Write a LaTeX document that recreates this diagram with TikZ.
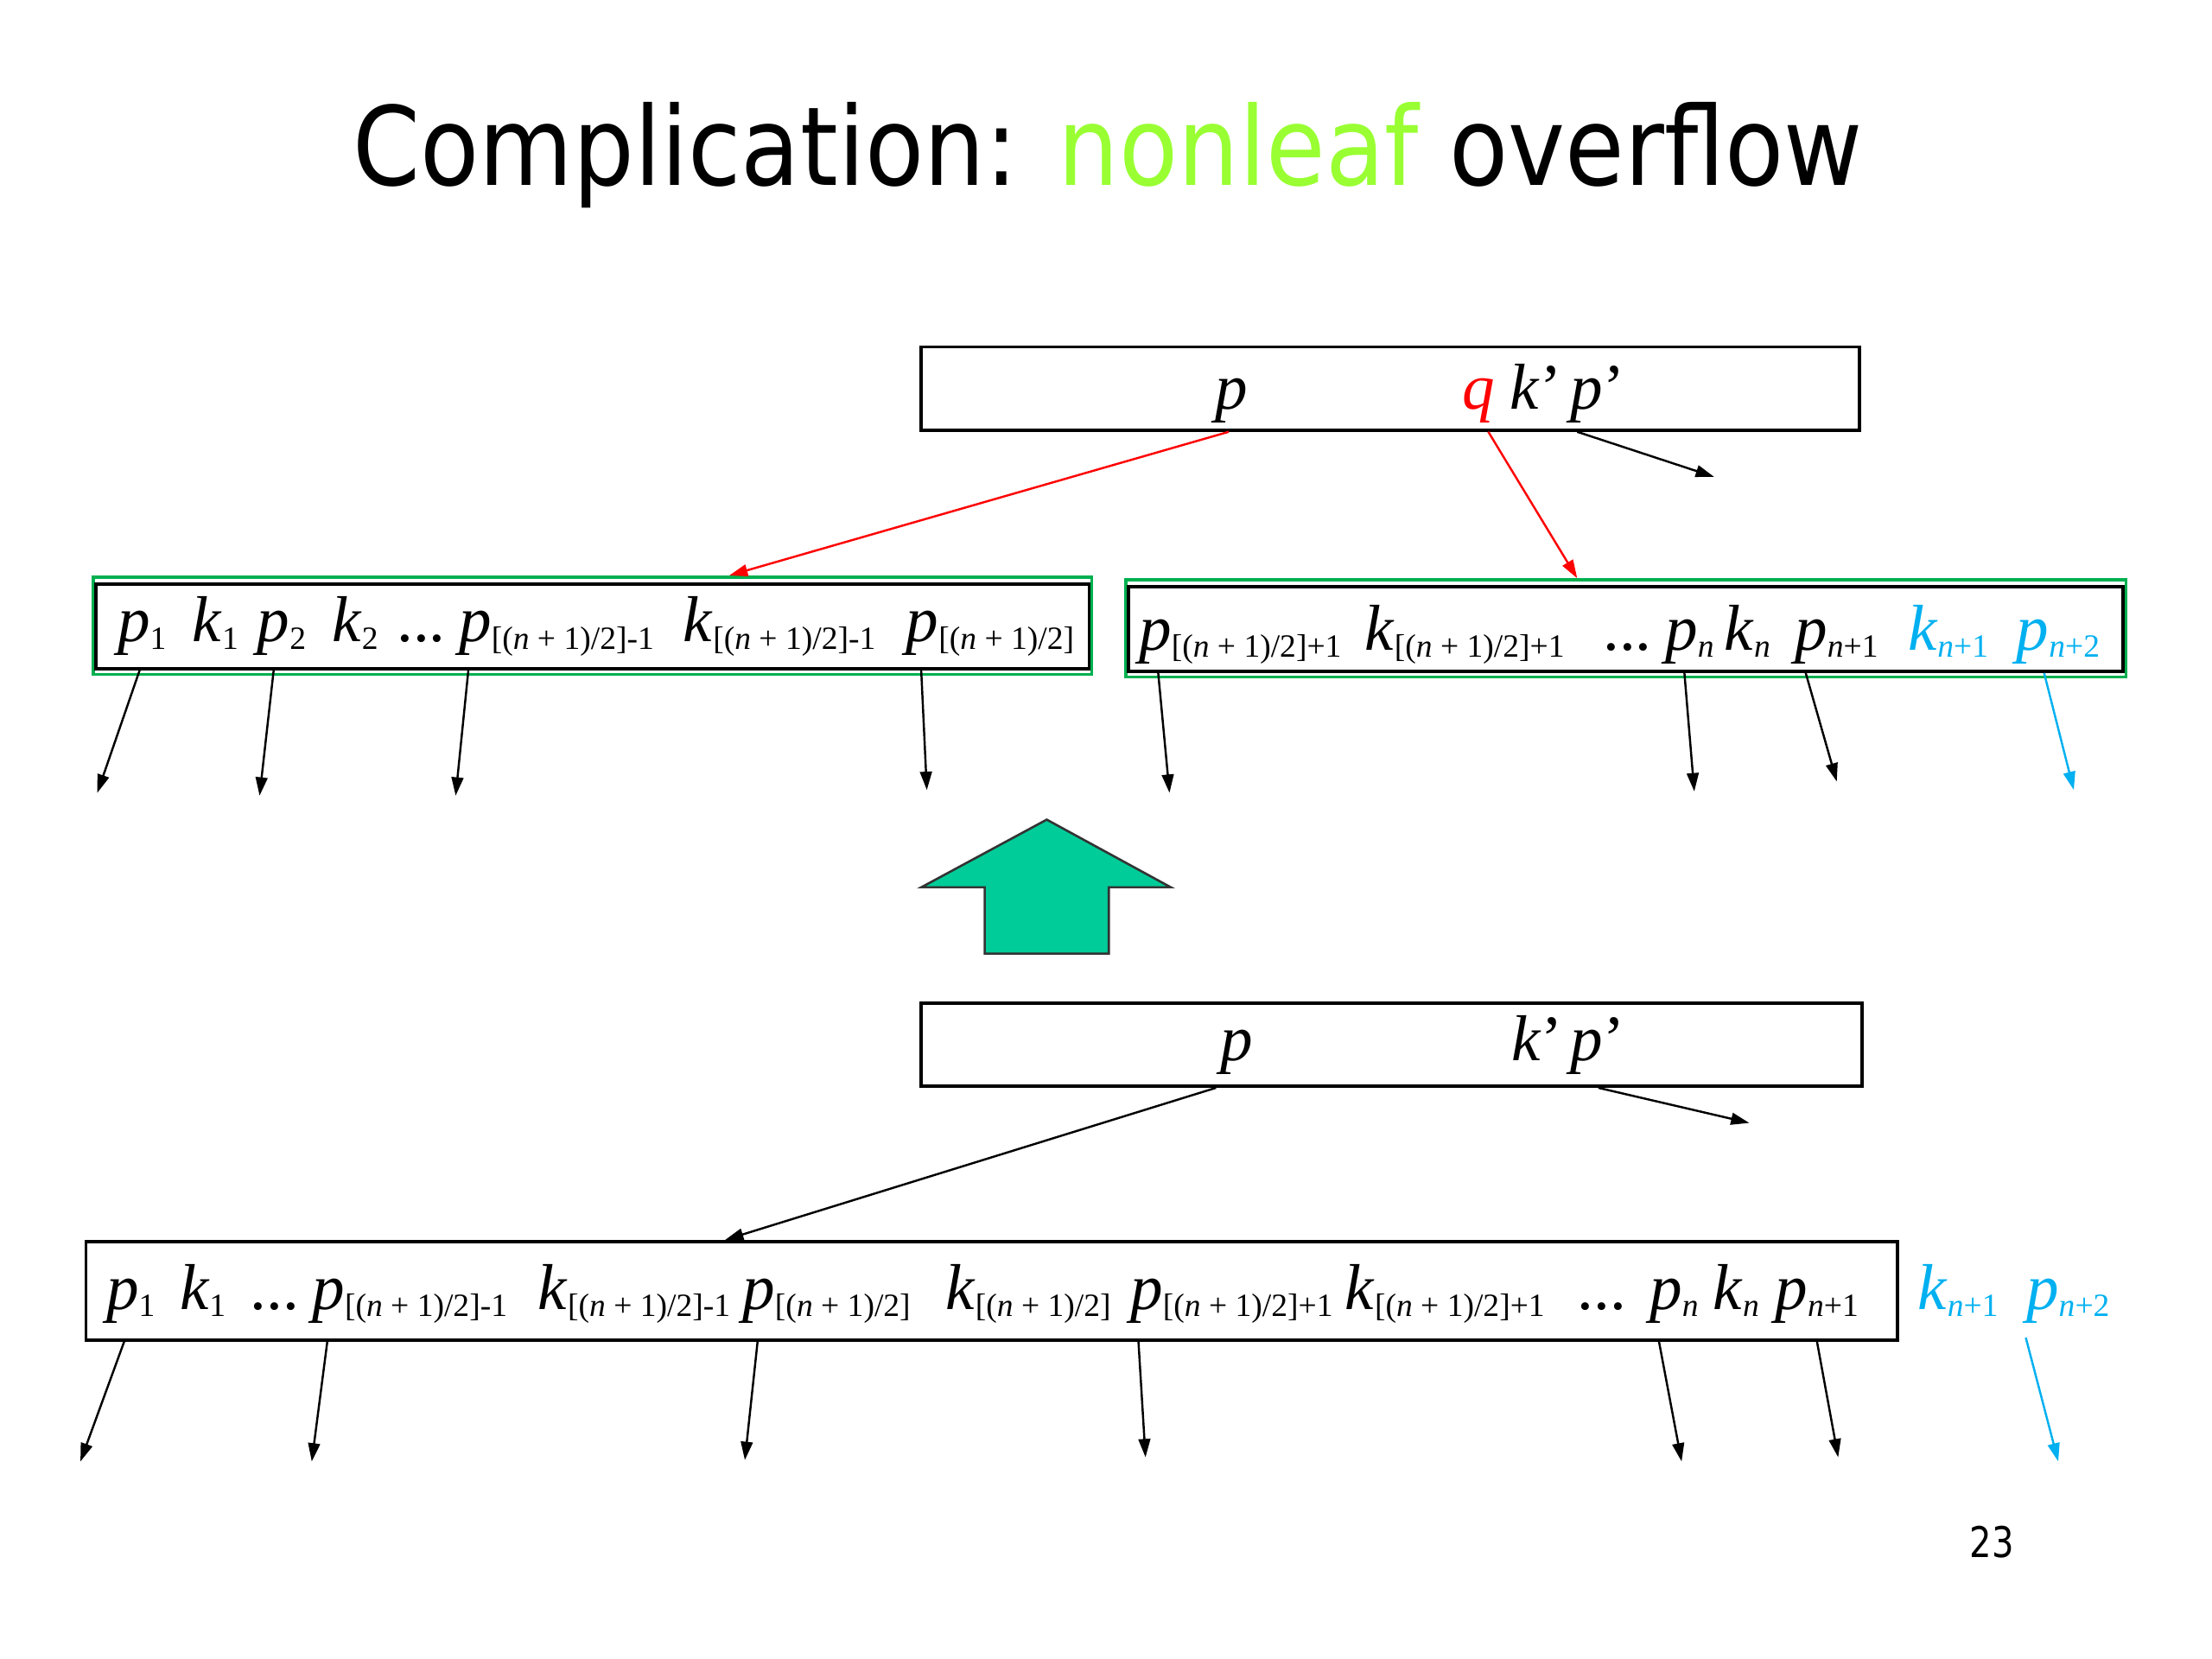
\documentclass[tikz,border=0pt]{standalone}
\usepackage{fontspec}
\usepackage{graphicx}
\setmainfont{Liberation Serif}
\newfontfamily\titlefont{DejaVu Sans}
\usetikzlibrary{arrows.meta}
\definecolor{titlegreen}{HTML}{99FF33}
\definecolor{boxgreen}{HTML}{00B050}
\definecolor{keyblue}{HTML}{00B0F0}
\definecolor{blockgreen}{HTML}{00CC99}
\newcommand{\sbx}[1]{\raisebox{-2.5pt}{\fontsize{11.5}{11.5}\selectfont #1}}
\newcommand{\hf}{[(\textit{n} + 1)/2]}
\begin{document}
\begin{tikzpicture}[x=0.5pt,y=-0.5pt,
  tok/.style={anchor=base west, inner sep=0pt, font=\fontsize{23}{23}\selectfont},
  nbox/.style={draw=black, line width=1.1pt, inner sep=0pt},
  gbox/.style={draw=boxgreen, line width=1.1pt, inner sep=0pt},
  arr/.style={-{Triangle[length=6.5pt,width=4.2pt]}, line width=0.75pt},
  redarr/.style={arr, draw=red, fill=red},
  bluearr/.style={arr, draw=keyblue, fill=keyblue},
  blockarrow/.style={fill=blockgreen, draw=black!80, line width=0.8pt, line join=miter}]
\useasboundingbox (0,0) rectangle (1568,1176);

% title and page number
\node[anchor=north west, inner sep=0pt] (title) at (250,72)
  {\resizebox*{535pt}{37.5pt}{\titlefont Complication: \textcolor{titlegreen}{nonleaf} overflow}};
\node[anchor=base west, inner sep=0pt] (page) at (1396,1104)
  {\titlefont\fontsize{15}{15}\selectfont\scalebox{0.82}[1]{23}};

% boxes
\node[nbox, minimum width=332.5pt, minimum height=29.5pt] (T) at (985.5,275.5) {};
\node[gbox, minimum width=354pt, minimum height=34.5pt] (LG) at (420,443.5) {};
\node[nbox, minimum width=352pt, minimum height=30pt] (L) at (420,444) {};
\node[gbox, minimum width=354.5pt, minimum height=34.5pt] (RG) at (1152.5,445.5) {};
\node[nbox, minimum width=352.5pt, minimum height=30pt] (R) at (1152.5,446) {};
\node[nbox, minimum width=333.5pt, minimum height=29.5pt] (B) at (986.5,740.5) {};
\node[nbox, minimum width=642pt, minimum height=35pt] (BB) at (703,915) {};

% top parent
\node[tok] (tp) at (861,290) {\textit{p}};
\node[tok, text=red] (tq) at (1036,290) {\textit{q}};
\node[tok] (tk) at (1070,290) {\textit{k}’};
\node[tok] (tpp) at (1113,290) {\textit{p}’};

% left split node
\node[tok] (l1) at (83,455) {\textit{p}\sbx{1}};
\node[tok] (l2) at (136,455) {\textit{k}\sbx{1}};
\node[tok] (l3) at (182,455) {\textit{p}\sbx{2}};
\node[tok] (l4) at (235,455) {\textit{k}\sbx{2}};
\node[tok] (l5) at (281,455) {...};
\node[tok] (l6) at (325,455) {\textit{p}\sbx{\hf-1}};
\node[tok] (l7) at (484,455) {\textit{k}\sbx{\hf-1}};
\node[tok] (l8) at (642,455) {\textit{p}\sbx{\hf}};

% right split node
\node[tok] (r1) at (807,461) {\textit{p}\sbx{\hf+1}};
\node[tok] (r2) at (967,461) {\textit{k}\sbx{\hf+1}};
\node[tok] (r3) at (1136,461) {...};
\node[tok] (r4) at (1180,461) {\textit{p}\sbx{\textit{n}}};
\node[tok] (r5) at (1222,461) {\textit{k}\sbx{\textit{n}}};
\node[tok] (r6) at (1272,461) {\textit{p}\sbx{\textit{n}+1}};
\node[tok, text=keyblue] (r7) at (1352,461) {\textit{k}\sbx{\textit{n}+1}};
\node[tok, text=keyblue] (r8) at (1429,461) {\textit{p}\sbx{\textit{n}+2}};

% bottom parent
\node[tok] (bp) at (865,752) {\textit{p}};
\node[tok] (bk) at (1071,752) {\textit{k}’};
\node[tok] (bpp) at (1113,752) {\textit{p}’};

% bottom overfull node
\node[tok] (b1) at (75,928) {\textit{p}\sbx{1}};
\node[tok] (b2) at (127,928) {\textit{k}\sbx{1}};
\node[tok] (b3) at (177,928) {...};
\node[tok] (b4) at (221,928) {\textit{p}\sbx{\hf-1}};
\node[tok] (b5) at (381,928) {\textit{k}\sbx{\hf-1}};
\node[tok] (b6) at (526,928) {\textit{p}\sbx{\hf}};
\node[tok] (b7) at (670,928) {\textit{k}\sbx{\hf}};
\node[tok] (b8) at (801,928) {\textit{p}\sbx{\hf+1}};
\node[tok] (b9) at (953,928) {\textit{k}\sbx{\hf+1}};
\node[tok] (b10) at (1118,928) {...};
\node[tok] (b11) at (1169,928) {\textit{p}\sbx{\textit{n}}};
\node[tok] (b12) at (1214,928) {\textit{k}\sbx{\textit{n}}};
\node[tok] (b13) at (1258,928) {\textit{p}\sbx{\textit{n}+1}};
\node[tok, text=keyblue] (b14) at (1359,928) {\textit{k}\sbx{\textit{n}+1}};
\node[tok, text=keyblue] (b15) at (1436,928) {\textit{p}\sbx{\textit{n}+2}};

% free arrow ends
\coordinate (ta) at (1215,338);
\coordinate (la1) at (69,562);
\coordinate (la2) at (184,564);
\coordinate (la3) at (323,564);
\coordinate (la4) at (657,560);
\coordinate (ra1) at (829,562);
\coordinate (ra2) at (1201,561);
\coordinate (ra3) at (1302,554);
\coordinate (ra4) at (1470,560);
\coordinate (ba) at (1240,796);
\coordinate (bba1) at (57,1036);
\coordinate (bba2) at (221,1036);
\coordinate (bba3) at (528,1035);
\coordinate (bba4) at (812,1033);
\coordinate (bba5) at (1192,1036);
\coordinate (bba6) at (1303,1033);
\coordinate (bba7) at (1459,1036);

% top connectors
\draw[redarr] (T.south -| 871,0) -- (LG.north -| 517,0);
\draw[redarr] (T.south -| 1055,0) -- (RG.north -| 1118,0);
\draw[arr] (T.south -| 1118,0) -- (ta);

\draw[arr] (L.south -| 99,0) -- (la1);
\draw[arr] (L.south -| 194,0) -- (la2);
\draw[arr] (L.south -| 332,0) -- (la3);
\draw[arr] (L.south -| 653,0) -- (la4);

\draw[arr] (R.south -| 821,0) -- (ra1);
\draw[arr] (R.south -| 1194,0) -- (ra2);
\draw[arr] (R.south -| 1280,0) -- (ra3);
\draw[bluearr] (R.south -| 1449,0) -- (ra4);

% block arrow
\draw[blockarrow] (742,581) -- (830,629) -- (786,629) -- (786,676) -- (698,676) -- (698,629) -- (653,629) -- cycle;

% bottom connectors
\draw[arr] (B.south -| 862,0) -- (BB.north -| 514,0);
\draw[arr] (B.south -| 1133,0) -- (ba);

\draw[arr] (BB.south -| 88,0) -- (bba1);
\draw[arr] (BB.south -| 232,0) -- (bba2);
\draw[arr] (BB.south -| 537,0) -- (bba3);
\draw[arr] (BB.south -| 807,0) -- (bba4);
\draw[arr] (BB.south -| 1176,0) -- (bba5);
\draw[arr] (BB.south -| 1288,0) -- (bba6);
\draw[bluearr] ([yshift=-5pt]b15.south west) -- (bba7);
\end{tikzpicture}
\end{document}
